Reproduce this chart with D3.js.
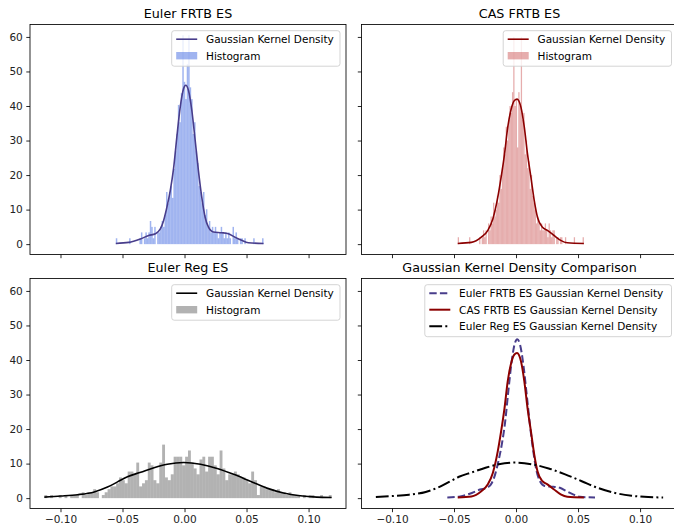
<!DOCTYPE html>
<html>
<head>
<meta charset="utf-8">
<script src="https://cdn.jsdelivr.net/npm/d3@7"></script>
<style>
  body { margin: 0; background: #fff; }
  svg { font-family: "DejaVu Sans", sans-serif; }
</style>
</head>
<body>
<div id="chart-area"></div>
<script>
const xTicks = [-0.10, -0.05, 0.00, 0.05, 0.10];
const yTicks = [0, 10, 20, 30, 40, 50, 60];
const yLimits = [-3.0, 63.6];

// histogram ranges (first bin left edge, last bin right edge), 100 bins each
const eulerRange = [-0.0554, 0.0637];
const casRange = [-0.047, 0.0547];
const regRange = [-0.113, 0.1186];

const eulerHist = [
  1.7, 0, 0, 0, 0, 0, 0, 0, 0, 1.7,
  0, 0, 0, 0, 0, 0, 1.7, 3.4, 0, 1.7,
  3.4, 1.7, 3.4, 6.7, 5.0, 1.7, 5.0, 0, 3.4, 3.4,
  5.0, 6.7, 5.0, 8.4, 15.1, 11.8, 15.1, 16.8, 13.4, 21.8,
  26.9, 31.9, 40.3, 35.3, 43.7, 60.5, 47.0, 42.0, 52.1, 60.5,
  45.4, 42.0, 31.9, 35.3, 26.9, 23.5, 16.8, 15.1, 11.8, 15.1,
  8.4, 10.1, 5.0, 6.7, 3.4, 5.0, 3.4, 5.0, 3.4, 1.7,
  3.4, 5.0, 3.4, 1.7, 3.4, 1.7, 3.4, 1.7, 0, 5.0,
  1.7, 3.4, 1.7, 0, 1.7, 1.7, 0, 1.7, 0, 0,
  0, 0, 0, 1.7, 0, 0, 0, 0, 0, 1.7
];

const casHist = [
  2, 0, 0, 0, 0, 0, 0, 0, 0, 2,
  0, 0, 0, 0, 0, 0, 0, 2, 0, 2,
  4, 2, 4, 0, 6, 4, 8, 6, 12, 8,
  10, 14, 12, 20, 16, 22, 28, 26, 34, 30,
  36, 40, 38, 44, 60, 40, 42, 28, 44, 40,
  60, 36, 38, 26, 30, 22, 24, 16, 20, 14,
  12, 10, 6, 8, 6, 4, 6, 4, 4, 6,
  4, 2, 6, 4, 2, 4, 4, 0, 2, 2,
  0, 2, 2, 0, 0, 2, 0, 0, 0, 0,
  0, 0, 2, 0, 0, 0, 0, 0, 0, 2
];

const regHist = [
  0.9, 0, 0.9, 0, 0, 0.9, 0, 0.9, 0, 0.9,
  0.9, 0.9, 0, 1.7, 0.9, 1.7, 1.7, 2.6, 1.7, 0,
  0.9, 1.7, 2.6, 3.4, 3.4, 4.3, 6.0, 5.2, 4.3, 7.7,
  7.7, 6.9, 10.3, 3.4, 4.3, 5.2, 10.3, 9.5, 5.2, 4.3,
  10.3, 15.5, 6.0, 5.2, 6.9, 12.0, 12.0, 12.0, 9.5, 12.0,
  13.8, 10.3, 8.6, 6.9, 11.2, 12.0, 7.7, 12.0, 12.0, 9.5,
  6.9, 13.8, 8.6, 5.2, 6.9, 6.9, 7.7, 6.9, 6.0, 6.0,
  5.2, 4.3, 7.7, 5.2, 0.9, 3.4, 3.4, 2.6, 2.6, 2.6,
  1.7, 2.6, 1.7, 1.7, 0.9, 1.7, 0.9, 0.9, 0.9, 0,
  0.9, 0, 0.9, 0.9, 0, 0, 0.9, 0, 0, 0.9
];

// kernel density curves: [x, density]
const eulerKde = [
  [-0.0554, 0.2], [-0.045, 0.5], [-0.0356, 1.5], [-0.0289, 2.5], [-0.0235, 3.0],
  [-0.0195, 4.4], [-0.0169, 6.8], [-0.0142, 10.7], [-0.0115, 15.5], [-0.0088, 22],
  [-0.0062, 31], [-0.0035, 39.6], [-0.0008, 45], [0.001, 46], [0.0032, 44.5],
  [0.0059, 38.7], [0.0086, 30], [0.0112, 21.3], [0.0139, 13.6], [0.0166, 7.8],
  [0.0193, 4.9], [0.0233, 3.5], [0.030, 3.3], [0.0353, 3.0], [0.0407, 2.0],
  [0.046, 1.1], [0.0514, 0.4], [0.0637, 0.2]
];

const casKde = [
  [-0.047, 0.2], [-0.036, 0.5], [-0.028, 2], [-0.0227, 4], [-0.0187, 7.3],
  [-0.0147, 13.6], [-0.012, 19.4], [-0.0093, 26], [-0.0067, 33.8], [-0.004, 39],
  [-0.0013, 41.6], [0.0008, 42], [0.004, 39.6], [0.0067, 33.8], [0.0093, 26],
  [0.012, 19.4], [0.0147, 12.6], [0.0173, 7.8], [0.0213, 4.9], [0.0253, 4],
  [0.0307, 2.5], [0.036, 1.1], [0.0413, 0.4], [0.0547, 0.2]
];

const regKde = [
  [-0.113, 0.3], [-0.0996, 0.6], [-0.0862, 1.0], [-0.0728, 1.8], [-0.0621, 3.2],
  [-0.054, 4.7], [-0.046, 6.2], [-0.0353, 7.5], [-0.0246, 8.8], [-0.0139, 9.8],
  [-0.0006, 10.3], [0.0129, 9.8], [0.0263, 8.6], [0.0396, 6.9], [0.053, 4.9],
  [0.0664, 2.9], [0.0798, 1.5], [0.0932, 0.7], [0.1066, 0.3], [0.1186, 0.2]
];

const cols = [{ x0: 30, x1: 346 }, { x0: 361.5, x1: 677.5 }];
const rows = [{ y0: 24.5, y1: 254.5 }, { y0: 278.5, y1: 508.5 }];

// x limits like matplotlib: data extent plus 5% each side
const xLo = d3.min([eulerRange[0], casRange[0], regRange[0]]);
const xHi = d3.max([eulerRange[1], casRange[1], regRange[1]]);
const xPad = (xHi - xLo) * 0.05;
const xLimits = [xLo - xPad, xHi + xPad];

const svg = d3.select("#chart-area")
  .append("svg")
  .attr("width", 674)
  .attr("height", 526);

const drawPanel = p => {
  const c = cols[p.col], r = rows[p.row];
  const x = d3.scaleLinear().domain(xLimits).range([c.x0, c.x1]);
  const y = d3.scaleLinear().domain(yLimits).range([r.y1, r.y0]);
  const g = svg.append("g");

  p.hists.forEach(h => {
    const step = (h.range[1] - h.range[0]) / h.values.length;
    const bins = h.values
      .map((v, i) => ({ v, a: h.range[0] + i * step, b: h.range[0] + (i + 1) * step }))
      .filter(d => d.v > 0);
    g.append("g").selectAll("rect").data(bins)
      .enter().append("rect")
      .attr("x", d => x(d.a))
      .attr("width", d => x(d.b) - x(d.a))
      .attr("y", d => y(d.v))
      .attr("height", d => y(0) - y(d.v))
      .attr("fill", h.color)
      .attr("fill-opacity", h.opacity);
  });

  const line = d3.line().x(d => x(d[0])).y(d => y(d[1])).curve(d3.curveMonotoneX);
  p.lines.forEach(l => {
    g.append("path")
      .attr("d", line(l.pts))
      .attr("fill", "none")
      .attr("stroke", l.color)
      .attr("stroke-width", l.width)
      .attr("stroke-dasharray", l.dash || null)
      .attr("stroke-linejoin", "round");
  });

  const xAxis = d3.axisBottom(x).tickValues(xTicks).tickSize(3.7).tickPadding(3.5)
    .tickFormat(p.xLabels ? d3.format(".2f") : () => "");
  const yAxis = d3.axisLeft(y).tickValues(yTicks).tickSize(3.7).tickPadding(3.5)
    .tickFormat(p.yLabels ? d3.format("d") : () => "");

  [g.append("g").attr("transform", `translate(0, ${r.y1})`).call(xAxis),
   g.append("g").attr("transform", `translate(${c.x0}, 0)`).call(yAxis)]
    .forEach(a => {
      a.select(".domain").remove();
      a.selectAll("line").attr("stroke", "#000").attr("stroke-width", 0.85);
      a.selectAll("text")
        .attr("fill", "#222")
        .attr("font-size", 10.5)
        .attr("font-family", "DejaVu Sans, sans-serif");
    });

  g.append("rect")
    .attr("x", c.x0).attr("y", r.y0)
    .attr("width", c.x1 - c.x0).attr("height", r.y1 - r.y0)
    .attr("fill", "none").attr("stroke", "#000").attr("stroke-width", 0.85);

  g.append("text")
    .attr("x", (c.x0 + c.x1) / 2)
    .attr("y", r.y0 - 6.3)
    .attr("text-anchor", "middle")
    .attr("font-size", 12.7)
    .attr("fill", "#000")
    .text(p.title);

  const n = p.legend.entries.length;
  const bx = c.x1 - 6 - p.legend.width, by = r.y0 + 6.2;
  const lg = g.append("g");
  lg.append("rect")
    .attr("x", bx).attr("y", by)
    .attr("width", p.legend.width).attr("height", 8.5 + (n - 1) * 16.5 + 10.5)
    .attr("rx", 2.5)
    .attr("fill", "#fff").attr("fill-opacity", 0.8)
    .attr("stroke", "#cccccc").attr("stroke-width", 0.85);
  p.legend.entries.forEach((e, k) => {
    const ry = by + 8.5 + k * 16.5;
    if (e.patch) {
      lg.append("rect")
        .attr("x", bx + 4.5).attr("y", ry - 3.7)
        .attr("width", 21).attr("height", 7.4)
        .attr("fill", e.color).attr("fill-opacity", e.opacity);
    } else {
      lg.append("line")
        .attr("x1", bx + 4.5).attr("x2", bx + 25.5)
        .attr("y1", ry).attr("y2", ry)
        .attr("stroke", e.color).attr("stroke-width", e.width)
        .attr("stroke-dasharray", e.dash || null);
    }
    lg.append("text")
      .attr("x", bx + 34.3).attr("y", ry + 3.8)
      .attr("font-size", 10.5).attr("fill", "#000")
      .text(e.label);
  });
};

const blue = "#483D8B", blueFill = "#4169E1";
const red = "#8B0000", redFill = "#CD5C5C";
const dashed = "7.4,3.2", dashDot = "12.8,3.2,2,3.2";

drawPanel({
  col: 0, row: 0, title: "Euler FRTB ES", xLabels: false, yLabels: true,
  hists: [{ range: eulerRange, values: eulerHist, color: blueFill, opacity: 0.5 }],
  lines: [{ pts: eulerKde, color: blue, width: 1.6 }],
  legend: { width: 168.3, entries: [
    { label: "Gaussian Kernel Density", color: blue, width: 1.6 },
    { label: "Histogram", patch: true, color: blueFill, opacity: 0.5 }
  ] }
});

drawPanel({
  col: 1, row: 0, title: "CAS FRTB ES", xLabels: false, yLabels: false,
  hists: [{ range: casRange, values: casHist, color: redFill, opacity: 0.5 }],
  lines: [{ pts: casKde, color: red, width: 1.6 }],
  legend: { width: 168.3, entries: [
    { label: "Gaussian Kernel Density", color: red, width: 1.6 },
    { label: "Histogram", patch: true, color: redFill, opacity: 0.5 }
  ] }
});

drawPanel({
  col: 0, row: 1, title: "Euler Reg ES", xLabels: true, yLabels: true,
  hists: [{ range: regRange, values: regHist, color: "#000", opacity: 0.3 }],
  lines: [{ pts: regKde, color: "#000", width: 1.6 }],
  legend: { width: 168.3, entries: [
    { label: "Gaussian Kernel Density", color: "#000", width: 1.6 },
    { label: "Histogram", patch: true, color: "#000", opacity: 0.3 }
  ] }
});

drawPanel({
  col: 1, row: 1, title: "Gaussian Kernel Density Comparison", xLabels: true, yLabels: false,
  hists: [],
  lines: [
    { pts: eulerKde, color: blue, width: 2, dash: dashed },
    { pts: casKde, color: red, width: 2 },
    { pts: regKde, color: "#000", width: 2, dash: dashDot }
  ],
  legend: { width: 246.7, entries: [
    { label: "Euler FRTB ES Gaussian Kernel Density", color: blue, width: 2, dash: dashed },
    { label: "CAS FRTB ES Gaussian Kernel Density", color: red, width: 2 },
    { label: "Euler Reg ES Gaussian Kernel Density", color: "#000", width: 2, dash: dashDot }
  ] }
});
</script>
</body>
</html>
